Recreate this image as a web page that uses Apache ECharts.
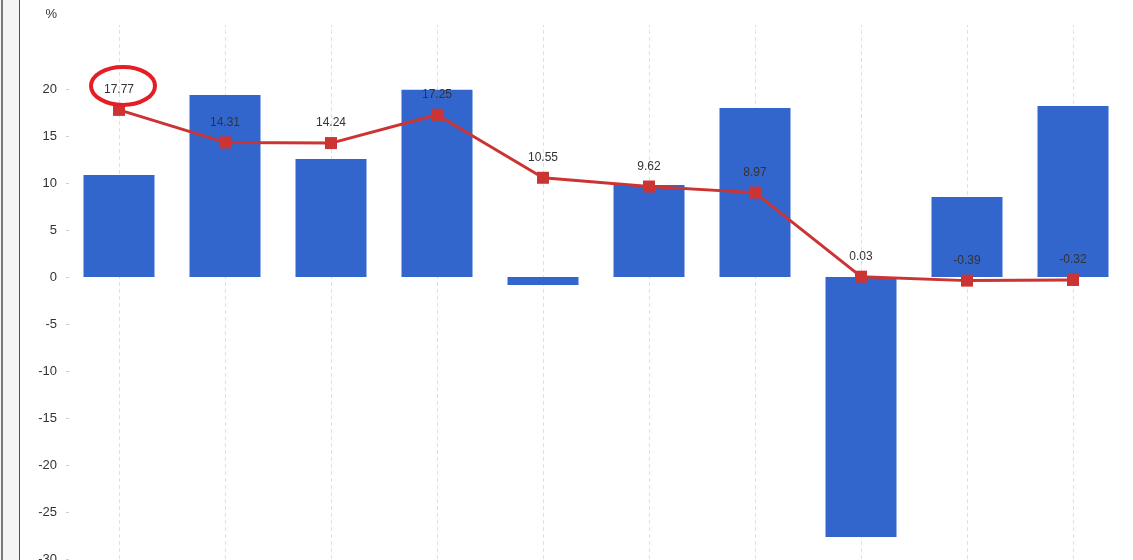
<!DOCTYPE html>
<html>
<head>
<meta charset="utf-8">
<script src="https://cdn.jsdelivr.net/npm/echarts@6/dist/echarts.min.js"></script>
<style>html,body{margin:0;padding:0;background:#fff}#c{width:1133px;height:560px}</style>
</head>
<body>
<div id="c"></div>
<script>
const categories = ['1', '2', '3', '4', '5', '6', '7', '8', '9', '10'];
const barValues = [10.85, 19.36, 12.55, 19.9, -0.85, 9.79, 17.98, -27.66, 8.51, 18.19];
const lineValues = [17.77, 14.31, 14.24, 17.25, 10.55, 9.62, 8.97, 0.03, -0.39, -0.32];
const yTicks = [-30, -25, -20, -15, -10, -5, 0, 5, 10, 15, 20];
const highlightIndex = 0;

const chart = echarts.init(document.getElementById('c'));
const font = "'Liberation Sans', Arial, sans-serif";
chart.setOption({
  animation: false,
  textStyle: { fontFamily: font },
  grid: { left: 66, right: 7, top: 25, height: 534, outerBoundsMode: 'none', containLabel: false },
  xAxis: {
    type: 'category',
    data: categories,
    axisLine: { show: false },
    axisTick: { show: false },
    axisLabel: { show: false },
    splitLine: { show: false }
  },
  yAxis: {
    type: 'value',
    min: -30,
    max: 26.8,
    interval: 5,
    name: '%',
    nameLocation: 'end',
    nameGap: 4,
    nameTextStyle: { align: 'right', padding: [0, 9, 0, 0], color: '#333', fontSize: 13, fontFamily: font },
    axisLine: { show: false },
    axisTick: { show: true, inside: true, length: 3, customValues: yTicks, lineStyle: { color: '#ccc' } },
    axisLabel: { customValues: yTicks, margin: 9, color: '#333', fontSize: 13, fontFamily: font },
    splitLine: { show: false }
  },
  series: [
    {
      type: 'line',
      data: [],
      silent: true,
      markLine: {
        z: 1,
        silent: true,
        symbol: 'none',
        label: { show: false },
        lineStyle: { type: [4, 3], color: '#e0e0e0', width: 1 },
        data: categories.map(c => ({ xAxis: c }))
      }
    },
    {
      type: 'bar',
      data: barValues,
      barWidth: 71,
      z: 2,
      itemStyle: { color: '#3366cc' }
    },
    {
      type: 'line',
      data: lineValues,
      z: 5,
      symbol: 'rect',
      symbolSize: 12,
      lineStyle: { color: '#cc3333', width: 3 },
      itemStyle: { color: '#cc3333' },
      label: { show: true, position: 'top', distance: 8, color: '#333', fontSize: 12, fontFamily: font,
        formatter: p => p.value.toFixed(2) }
    }
  ]
});

const pt = chart.convertToPixel({ gridIndex: 0 }, [highlightIndex, lineValues[highlightIndex]]);
chart.setOption({
  graphic: [
    { type: 'rect', shape: { x: 0, y: 0, width: 19, height: 560 }, style: { fill: '#f4f4f4' }, silent: true },
    { type: 'rect', shape: { x: 1, y: 0, width: 2, height: 560 }, style: { fill: '#7a7a7a' }, silent: true },
    { type: 'rect', shape: { x: 19, y: 0, width: 1, height: 560 }, style: { fill: '#1f5f8f' }, silent: true },
    { type: 'ellipse', shape: { cx: pt[0] + 4, cy: pt[1] - 24, rx: 32, ry: 19 },
      style: { fill: 'none', stroke: '#e31e24', lineWidth: 4 }, z: 100, silent: true }
  ]
});
</script>
</body>
</html>
